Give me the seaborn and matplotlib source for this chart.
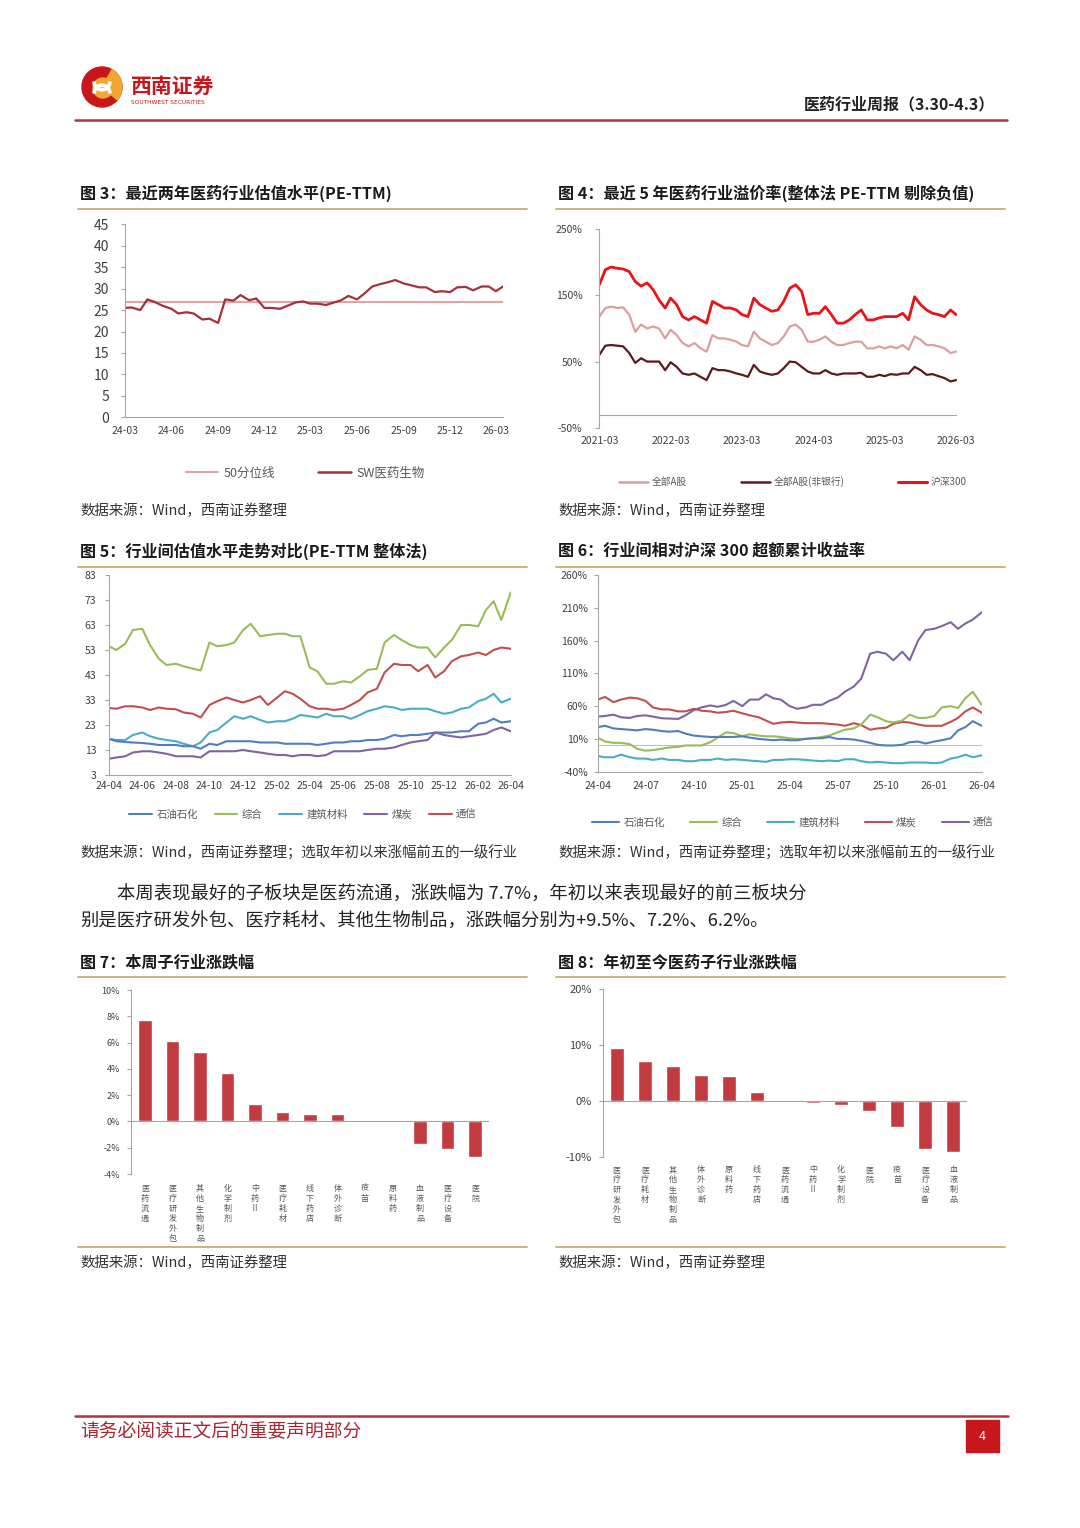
import numpy as np
import pandas as pd
import matplotlib
matplotlib.use('Agg')
import matplotlib.pyplot as plt
import matplotlib.dates as mdates
from matplotlib.lines import Line2D
from matplotlib.patches import Rectangle, Circle, Wedge
import seaborn as sns

sns.set_style('ticks')
plt.rcParams['font.family'] = ['Noto Sans CJK SC', 'DejaVu Sans']
plt.rcParams['axes.unicode_minus'] = False

W, H = 1080, 1528

# ---- data: fig 3, PE-TTM of SW pharma (semi-monthly) ----
pe_dates = pd.date_range('2024-03-01', periods=50, freq='SMS')
pe_sw = [25.5, 25.6, 25.0, 27.5, 26.8, 26.0, 25.3, 24.2, 24.5, 24.2,
         22.8, 23.0, 22.0, 27.5, 27.2, 28.5, 27.3, 27.7, 25.5, 25.5,
         25.3, 26.0, 26.8, 27.0, 26.5, 26.5, 26.2, 26.7, 27.3, 28.3,
         27.5, 28.8, 30.5, 31.0, 31.5, 32.0, 31.2, 30.8, 30.3, 30.3,
         29.2, 29.4, 29.2, 30.3, 30.4, 29.6, 30.5, 30.5, 29.4, 30.5]
pe_median = 26.8

# ---- data: fig 4, premium vs market (monthly, %) ----
prem_dates = pd.date_range('2021-03-01', periods=61, freq='MS')
prem_all_a = [118, 131, 133, 131, 132, 121, 95, 106, 100, 103,
              100, 85, 98, 90, 78, 73, 78, 70, 65, 90,
              85, 85, 83, 80, 75, 73, 95, 85, 80, 75,
              78, 88, 103, 106, 98, 80, 80, 83, 88, 80,
              75, 75, 78, 80, 80, 70, 70, 73, 70, 73,
              70, 75, 68, 88, 83, 75, 75, 73, 70, 63, 65]
prem_ex_bank = [60, 74, 75, 74, 73, 63, 48, 55, 50, 50,
                50, 37, 49, 42, 32, 30, 32, 27, 22, 40,
                37, 37, 35, 32, 30, 27, 45, 35, 32, 30,
                32, 40, 50, 49, 42, 35, 32, 32, 37, 32,
                30, 32, 32, 32, 33, 27, 27, 30, 28, 31,
                30, 32, 32, 42, 37, 30, 31, 28, 25, 20, 22]
prem_hs300 = [166, 189, 193, 191, 190, 186, 171, 164, 169, 159,
              143, 131, 146, 136, 118, 113, 118, 113, 108, 141,
              136, 131, 131, 128, 121, 118, 146, 136, 131, 126,
              128, 141, 161, 166, 156, 121, 123, 123, 133, 121,
              108, 108, 113, 121, 128, 113, 113, 116, 118, 118,
              118, 123, 113, 148, 136, 128, 123, 121, 118, 128, 121]

# ---- data: fig 5 / fig 6, industries (semi-monthly) ----
ind_dates = pd.date_range('2024-04-01', periods=49, freq='SMS')
pe_petro = [17.5, 16.5, 16.2, 16, 15.8, 15.5, 15, 15, 15, 14.5,
            14.5, 13.5, 15.5, 15, 16.5, 16.5, 16.5, 16.5, 16, 16,
            16, 15.5, 15.5, 15.5, 15.5, 15, 15.5, 16, 16, 16.5,
            16.5, 17, 17, 17.5, 19, 18.5, 19, 19, 19.5, 20,
            20, 20, 20.5, 20.5, 23.5, 24, 25.5, 24, 24.5]
pe_zonghe = [54.5, 53, 55.5, 61, 61.5, 55, 49.5, 47, 47.5, 46.5,
             45.5, 44.8, 56, 54.5, 55, 56, 61, 63.5, 58.5, 59,
             59.5, 59.5, 58.5, 58.5, 46, 44.5, 39.5, 39.5, 40.5, 40,
             42.5, 45, 45.5, 56, 59, 57, 55, 54, 54, 50,
             54, 57, 63, 63, 62.5, 69, 72.5, 65, 76]
pe_jiancai = [17.5, 17, 17, 19, 20, 18.5, 17.5, 17, 16.5, 15.5,
              14.5, 16, 20, 21, 24, 26.5, 25.5, 26.5, 25, 24,
              24.5, 24.5, 25.5, 27, 26.5, 26, 27.5, 26.5, 26.5, 25.5,
              27, 28.5, 29.5, 30.5, 30, 29, 29.5, 29.5, 29.5, 28.5,
              27.5, 28, 29.5, 30, 32.5, 33.5, 35.5, 32, 33.5]
pe_coal = [9.5, 10, 10.5, 12, 12.5, 12.5, 12, 11.5, 10.5, 10.5,
           10.5, 10, 12.5, 12.5, 12.5, 12.5, 13, 12.5, 12, 11.5,
           11, 11, 10.5, 11, 11, 10.5, 11, 12.5, 12.5, 12.5,
           12.5, 13, 13.5, 13.5, 14, 15, 16, 16.5, 17, 20,
           19, 18.5, 18, 18.5, 19, 19.5, 21, 22, 20.5]
pe_telecom = [29.8, 29.5, 30.5, 30.5, 30, 29, 30, 29.5, 29.3, 28,
              27.5, 26, 31, 32.5, 34, 33, 32, 33, 34.5, 31,
              34, 36.5, 35.5, 33.5, 30.5, 29.5, 29.5, 29, 29.5, 31,
              33, 36, 37.5, 44, 47.5, 47, 47, 44.5, 47, 42,
              44.5, 48.5, 50.5, 51, 52, 51, 53, 54, 53.5]

ex_petro = [28, 30, 26, 25, 24, 23, 25, 24, 22, 21,
            22, 18, 15, 14, 13, 13, 13, 13, 14, 12,
            10, 9, 8, 9, 8, 8, 10, 11, 11, 13,
            10, 10, 9, 7, 4, 1, 0, 0, 1, 5,
            6, 3, 6, 8, 11, 23, 28, 37, 30]
ex_zonghe = [12, 6, 4, 4, 2, -5, -8, -7, -5, -3,
             -2, 0, 0, 0, 5, 12, 20, 19, 14, 17,
             15, 14, 14, 13, 11, 10, 10, 11, 13, 15,
             20, 24, 26, 32, 47, 43, 37, 35, 38, 47,
             42, 42, 45, 58, 60, 57, 72, 82, 62]
ex_jiancai = [-16, -18, -18, -14, -18, -20, -20, -22, -20, -22,
              -22, -24, -24, -22, -22, -20, -22, -21, -22, -23,
              -24, -25, -22, -22, -21, -21, -22, -23, -24, -23,
              -24, -21, -21, -24, -26, -25, -26, -27, -27, -26,
              -26, -26, -27, -26, -20, -18, -14, -18, -15]
ex_coal = [70, 74, 66, 70, 73, 72, 68, 58, 55, 55,
           52, 52, 56, 53, 52, 50, 51, 53, 49, 46,
           43, 38, 33, 35, 36, 35, 34, 34, 34, 33,
           32, 30, 34, 31, 24, 26, 27, 33, 36, 35,
           32, 30, 30, 30, 36, 42, 52, 58, 50]
ex_telecom = [44, 45, 47, 43, 42, 45, 46, 44, 41.5, 41,
              40.5, 46, 54, 58, 61, 59, 62, 68, 60, 70,
              70, 78, 72, 70, 60, 56, 58, 62, 62, 68,
              73, 82, 90, 102, 140, 143, 140, 130, 143, 130,
              160, 176, 178, 182, 188, 178, 186, 192, 203]

# ---- data: fig 7 / fig 8, sub-industry changes (%) ----
week_names = ['医药流通', '医疗研发外包', '其他生物制品', '化学制剂', '中药Ⅱ', '医疗耗材',
              '线下药店', '体外诊断', '疫苗', '原料药', '血液制品', '医疗设备', '医院']
week_chg = [7.7, 6.1, 5.3, 3.7, 1.3, 0.7, 0.6, 0.6, 0.1, 0.0, -1.7, -2.1, -2.7]
ytd_names = ['医疗研发外包', '医疗耗材', '其他生物制品', '体外诊断', '原料药', '线下药店',
             '医药流通', '中药Ⅱ', '化学制剂', '医院', '疫苗', '医疗设备', '血液制品']
ytd_chg = [9.5, 7.2, 6.2, 4.7, 4.4, 1.6, 0.1, -0.4, -0.7, -1.8, -4.6, -8.7, -9.1]

BAR_RED = '#C23B40'
GOLD = '#C9AC72'
DARKRED = '#A8262E'
TXT = '#404040'

fig = plt.figure(figsize=(W / 100, H / 100), dpi=100)


def add_ax(x0, x1, y0, y1):
    return fig.add_axes([x0 / W, 1 - y1 / H, (x1 - x0) / W, (y1 - y0) / H])


def ftext(x, y, s, **kw):
    kw.setdefault('va', 'center')
    return fig.text(x / W, 1 - y / H, s, **kw)


def hline(x0, x1, y, color, lw):
    fig.add_artist(Line2D([x0 / W, x1 / W], [1 - y / H, 1 - y / H],
                          transform=fig.transFigure, color=color, lw=lw))


def style_ax(ax, fs, ypad):
    sns.despine(ax=ax)
    for s in ['left', 'bottom']:
        ax.spines[s].set_color('#A6A6A6')
        ax.spines[s].set_linewidth(0.8)
    ax.tick_params(axis='y', colors='#A6A6A6', labelcolor=TXT, labelsize=fs,
                   length=3, width=0.8, pad=ypad)
    ax.tick_params(axis='x', colors='#A6A6A6', labelcolor=TXT, labelsize=fs,
                   length=0)
    ax.set_xlabel('')
    ax.set_ylabel('')
    ax.grid(False)


def legend(ax, items, cx, cy, fs, hl=2.2, cs=2.0):
    handles = [Line2D([], [], color=c, lw=lw) for _, c, lw in items]
    labels = [n for n, _, _ in items]
    ax.legend(handles, labels, loc='center', bbox_to_anchor=(cx / W, 1 - cy / H),
              bbox_transform=fig.transFigure, ncol=len(items), frameon=False,
              fontsize=fs, handlelength=hl, columnspacing=cs, handletextpad=0.4,
              labelcolor='#595959')


# ---------------- header ----------------
lax = add_ax(80, 124, 65, 109)
lax.set_xlim(-1.1, 1.1)
lax.set_ylim(-1.1, 1.1)
lax.set_aspect('equal')
lax.axis('off')
lax.add_patch(Circle((0, 0), 1, color='#C8161D'))
lax.add_patch(Wedge((0, 0), 1, -40, 60, color='#F0A830'))
lax.add_patch(Circle((0.05, -0.05), 0.5, color='#F0A830'))
lax.add_patch(Wedge((0, 0.25), 0.45, 180, 360, width=0.12, color='white'))
lax.add_patch(Wedge((0, -0.3), 0.45, 0, 180, width=0.12, color='white'))
ftext(131, 86, '西南证券', color='#C8161D', fontsize=15, fontweight='bold')
ftext(131, 103, 'SOUTHWEST SECURITIES', color='#C8161D', fontsize=4.2,
      family=['DejaVu Sans'])
ftext(995, 104, '医药行业周报（3.30-4.3）', ha='right', fontsize=11.5,
      fontweight='bold', color='#222222')
hline(75, 1007, 120, '#B0353C', 1.8)

# ---------------- titles ----------------
tkw = dict(fontsize=11.6, fontweight='bold', color='#1a1a1a')
ftext(80, 193, '图 3：最近两年医药行业估值水平(PE-TTM)', **tkw)
ftext(558, 193, '图 4：最近 5 年医药行业溢价率(整体法 PE-TTM 剔除负值)', **tkw)
ftext(80, 551, '图 5：行业间估值水平走势对比(PE-TTM 整体法)', **tkw)
ftext(558, 551, '图 6：行业间相对沪深 300 超额累计收益率', **tkw)
ftext(80, 962, '图 7：本周子行业涨跌幅', **tkw)
ftext(558, 962, '图 8：年初至今医药子行业涨跌幅', **tkw)
for y in [209, 567, 977]:
    hline(78, 527, y, GOLD, 1.3)
    hline(556, 1005, y, GOLD, 1.3)
hline(78, 527, 1247, GOLD, 1.3)
hline(556, 1005, 1247, GOLD, 1.3)

skw = dict(fontsize=10.4, color='#333333')
ftext(80, 511, '数据来源：Wind，西南证券整理', **skw)
ftext(558, 511, '数据来源：Wind，西南证券整理', **skw)
ftext(80, 853, '数据来源：Wind，西南证券整理；选取年初以来涨幅前五的一级行业', **skw)
ftext(558, 853, '数据来源：Wind，西南证券整理；选取年初以来涨幅前五的一级行业', **skw)
ftext(80, 1263, '数据来源：Wind，西南证券整理', **skw)
ftext(558, 1263, '数据来源：Wind，西南证券整理', **skw)

# ---------------- body text ----------------
bkw = dict(fontsize=13.2, color='#222222')
ftext(117, 895, '本周表现最好的子板块是医药流通，涨跌幅为 7.7%，年初以来表现最好的前三板块分', **bkw)
ftext(80, 922, '别是医疗研发外包、医疗耗材、其他生物制品，涨跌幅分别为+9.5%、7.2%、6.2%。', **bkw)

# ---------------- fig 3 ----------------
C_MED, C_SW = '#E3A3A6', '#A3323A'
ax3 = add_ax(124.5, 503, 224.3, 417.3)
ax3.axhline(pe_median, color=C_MED, lw=1.5)
sns.lineplot(x=pe_dates, y=pe_sw, ax=ax3, color=C_SW, lw=1.6)
ax3.set_xlim(pe_dates[0], pe_dates[-1])
ax3.set_ylim(0, 45)
ax3.set_yticks(range(0, 46, 5))
ax3.xaxis.set_major_locator(mdates.MonthLocator(bymonth=[3, 6, 9, 12]))
ax3.xaxis.set_major_formatter(mdates.DateFormatter('%y-%m'))
style_ax(ax3, 8.5, 8)
ax3.tick_params(axis='y', labelsize=10)
ax3.tick_params(axis='x', labelsize=7.5, pad=6)
legend(ax3, [('50分位线', C_MED, 1.5), ('SW医药生物', C_SW, 1.8)], 305, 473, 9,
       hl=2.6, cs=3.5)

# ---------------- fig 4 ----------------
C_ALL, C_EXB, C_HS = '#DA9FA2', '#5A1A20', '#E8141A'
ax4 = add_ax(599.3, 957, 229.3, 427.7)
sns.lineplot(x=prem_dates, y=prem_all_a, ax=ax4, color=C_ALL, lw=1.6)
sns.lineplot(x=prem_dates, y=prem_ex_bank, ax=ax4, color=C_EXB, lw=1.6)
sns.lineplot(x=prem_dates, y=prem_hs300, ax=ax4, color=C_HS, lw=2.0)
ax4.axhline(-31, color='#A6A6A6', lw=0.8)
ax4.set_xlim(prem_dates[0], prem_dates[-1] + pd.Timedelta(days=5))
ax4.set_ylim(-50, 250)
ax4.set_yticks([-50, 50, 150, 250])
ax4.set_yticklabels([f'{v}%' for v in [-50, 50, 150, 250]])
ax4.xaxis.set_major_locator(mdates.MonthLocator(bymonth=[3]))
ax4.xaxis.set_major_formatter(mdates.DateFormatter('%Y-%m'))
style_ax(ax4, 7.5, 9)
ax4.spines['bottom'].set_visible(False)
ax4.tick_params(axis='x', pad=6)
legend(ax4, [('全部A股', C_ALL, 1.8), ('全部A股(非银行)', C_EXB, 1.8), ('沪深300', C_HS, 2.2)],
       793, 482, 7, hl=3.0, cs=5.5)

# ---------------- fig 5 ----------------
C_PET, C_ZH, C_JC, C_PUR, C_RED = '#4F7FBC', '#9BBB59', '#4BACC6', '#7E64A0', '#C0504D'
ax5 = add_ax(108.7, 510.7, 575, 775)
for vals, c in [(pe_zonghe, C_ZH), (pe_telecom, C_RED), (pe_jiancai, C_JC),
                (pe_petro, C_PET), (pe_coal, C_PUR)]:
    sns.lineplot(x=ind_dates, y=vals, ax=ax5, color=c, lw=1.5)
ax5.set_xlim(ind_dates[0], ind_dates[-1])
ax5.set_ylim(3, 83)
ax5.set_yticks(range(3, 84, 10))
ax5.xaxis.set_major_locator(mdates.MonthLocator(bymonth=[2, 4, 6, 8, 10, 12]))
ax5.xaxis.set_major_formatter(mdates.DateFormatter('%y-%m'))
style_ax(ax5, 7.5, 6)
ax5.tick_params(axis='x', pad=4)
legend(ax5, [('石油石化', C_PET, 1.5), ('综合', C_ZH, 1.5), ('建筑材料', C_JC, 1.5),
             ('煤炭', C_PUR, 1.5), ('通信', C_RED, 1.5)], 303, 815, 7.5, hl=2.2, cs=1.6)

# ---------------- fig 6 ----------------
ax6 = add_ax(597.7, 981.7, 575, 771.7)
ax6.axhline(0, color='#BFBFBF', lw=0.8)
for vals, c in [(ex_telecom, C_PUR), (ex_coal, C_RED), (ex_zonghe, C_ZH),
                (ex_petro, C_PET), (ex_jiancai, C_JC)]:
    sns.lineplot(x=ind_dates, y=vals, ax=ax6, color=c, lw=1.5)
ax6.set_xlim(ind_dates[0], ind_dates[-1])
ax6.set_ylim(-40, 260)
ax6.set_yticks(range(-40, 261, 50))
ax6.set_yticklabels([f'{v}%' for v in range(-40, 261, 50)])
ax6.xaxis.set_major_locator(mdates.MonthLocator(bymonth=[1, 4, 7, 10]))
ax6.xaxis.set_major_formatter(mdates.DateFormatter('%y-%m'))
style_ax(ax6, 7.5, 4)
ax6.tick_params(axis='x', pad=7)
legend(ax6, [('石油石化', C_PET, 1.5), ('综合', C_ZH, 1.5), ('建筑材料', C_JC, 1.5),
             ('煤炭', C_RED, 1.5), ('通信', C_PUR, 1.5)], 793, 823, 7.5, hl=2.6, cs=2.4)


# ---------------- fig 7 / fig 8 ----------------
def bar_chart(ax, names, vals, ylim, yticks, fs, pad):
    sns.barplot(x=names, y=vals, ax=ax, color=BAR_RED, width=0.5, saturation=1)
    ax.axhline(0, color='#A6A6A6', lw=0.8)
    ax.set_xlim(-0.5, len(names) - 0.5)
    ax.set_ylim(*ylim)
    ax.set_yticks(yticks)
    ax.set_yticklabels([f'{v}%' for v in yticks])
    style_ax(ax, fs, 5)
    ax.spines['bottom'].set_visible(False)
    ax.set_xticks(range(len(names)))
    ax.set_xticklabels(['\n'.join(n) for n in names], fontsize=5.8, va='top',
                       linespacing=1.15, color='#595959')
    ax.tick_params(axis='x', pad=pad)


ax7 = add_ax(131.25, 488.75, 990, 1174)
bar_chart(ax7, week_names, week_chg, (-4, 10), list(range(-4, 11, 2)), 6.5, 7)
ax8 = add_ax(602.7, 967.3, 989.3, 1156.7)
bar_chart(ax8, ytd_names, ytd_chg, (-10, 20), [-10, 0, 10, 20], 8, 6)

# ---------------- footer ----------------
hline(75, 1008, 1416, '#B0353C', 1.8)
ftext(80, 1431, '请务必阅读正文后的重要声明部分', fontsize=13.5, color=DARKRED)
fig.add_artist(Rectangle((966 / W, 1 - 1452 / H), 33 / W, 32 / H,
                         transform=fig.transFigure, color='#C8161D'))
ftext(982.5, 1436, '4', ha='center', color='white', fontsize=9)

fig.savefig('out.png', dpi=100)
